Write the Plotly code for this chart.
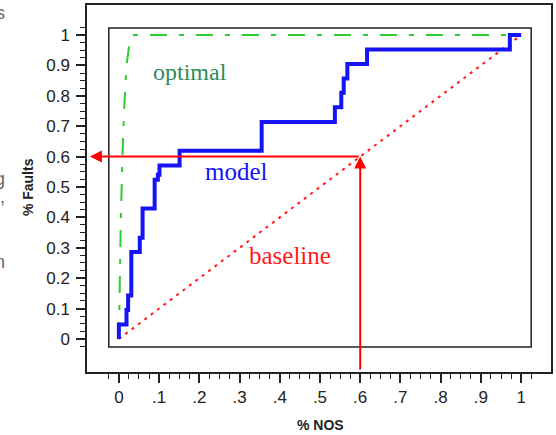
import plotly.graph_objects as go

# ---- data ----
model_x = [0, 0, 0.019, 0.023, 0.031, 0.052, 0.059, 0.089, 0.097, 0.101, 0.151,
           0.355, 0.537, 0.553, 0.559, 0.568, 0.617, 0.972, 1.0]
model_y = [0, 0.048, 0.095, 0.143, 0.286, 0.333, 0.429, 0.524, 0.54, 0.571, 0.619,
           0.714, 0.762, 0.810, 0.857, 0.905, 0.952, 1.0, 1.0]

optimal_x = [0, 0.002, 0.005, 0.009, 0.013, 0.019, 0.026, 0.035, 1.0]
optimal_y = [0, 0.2, 0.4, 0.6, 0.75, 0.9, 0.97, 1.0, 1.0]

baseline_x = [0, 1]
baseline_y = [0, 1]

cut_x = 0.6
cut_y = 0.6

x_major = [0, 0.1, 0.2, 0.3, 0.4, 0.5, 0.6, 0.7, 0.8, 0.9, 1.0]
x_labels = ["0", ".1", ".2", ".3", ".4", ".5", ".6", ".7", ".8", ".9", "1"]
y_major = [0, 0.1, 0.2, 0.3, 0.4, 0.5, 0.6, 0.7, 0.8, 0.9, 1.0]
y_labels = ["0", "0.1", "0.2", "0.3", "0.4", "0.5", "0.6", "0.7", "0.8", "0.9", "1"]
minor_vals = [round(-0.025 + 0.025 * i, 3) for i in range(43)]
minor_vals = [v for v in minor_vals if round(v * 10, 6) != round(v * 10)]

fig = go.Figure()

fig.add_trace(go.Scatter(x=baseline_x, y=baseline_y, mode="lines",
                         line=dict(color="#ff1a1a", width=2, dash="3px,5px"),
                         hoverinfo="skip"))
fig.add_trace(go.Scatter(x=optimal_x, y=optimal_y, mode="lines",
                         line=dict(color="#2ecc2e", width=2, dash="17px,12px,5px,12px"),
                         hoverinfo="skip"))
fig.add_trace(go.Scatter(x=model_x, y=model_y, mode="lines", line_shape="hv",
                         line=dict(color="#1414f5", width=4),
                         hoverinfo="skip"))

# inner frame
fig.add_shape(type="rect", xref="x", yref="y", x0=-0.025, x1=1.025, y0=-0.026, y1=1.023,
              line=dict(color="#222222", width=1.5), layer="below")

# red arrows
fig.add_annotation(x=-0.072, y=cut_y, ax=cut_x, ay=cut_y, xref="x", yref="y",
                   axref="x", ayref="y", text="", showarrow=True, arrowhead=2,
                   arrowsize=1.2, arrowwidth=2, arrowcolor="#ff0000", standoff=0)
fig.add_annotation(x=cut_x, y=cut_y, ax=cut_x, ay=-0.105, xref="x", yref="y",
                   axref="x", ayref="y", text="", showarrow=True, arrowhead=2,
                   arrowsize=1.2, arrowwidth=2, arrowcolor="#ff0000", standoff=0)

serif = "Liberation Serif, Times New Roman, serif"
fig.add_annotation(x=0.176, y=0.878, xref="x", yref="y", text="optimal", showarrow=False,
                   font=dict(family=serif, size=24, color="#2e8b57"))
fig.add_annotation(x=0.292, y=0.552, xref="x", yref="y", text="model", showarrow=False,
                   font=dict(family=serif, size=25, color="#1414f5"))
fig.add_annotation(x=0.426, y=0.276, xref="x", yref="y", text="baseline", showarrow=False,
                   font=dict(family=serif, size=25, color="#ff1a1a"))

sans = "Liberation Sans, Arial, sans-serif"
fig.add_annotation(x=-0.127, y=0.504, xref="paper", yref="paper", text="<b>% Faults</b>",
                   textangle=-90, xanchor="center", yanchor="middle", showarrow=False,
                   font=dict(family=sans, size=14, color="#222222"))
fig.add_annotation(x=0.504, y=-0.145, xref="paper", yref="paper", text="<b>% NOS</b>",
                   xanchor="center", yanchor="middle", showarrow=False,
                   font=dict(family=sans, size=14, color="#222222"))

# stray fragments of surrounding text at the left edge
for txt, py in [("s", 0.978), ("g", 0.525), (",", 0.478), ("n", 0.30)]:
    fig.add_annotation(x=-0.172, y=py, xref="paper", yref="paper", text=txt,
                       xanchor="right", yanchor="middle", showarrow=False,
                       font=dict(family=sans, size=18, color="#666666"))

axis_common = dict(showline=True, mirror=True, linecolor="#222222", linewidth=1.5,
                   showgrid=False, zeroline=False, ticks="outside", ticklen=9,
                   tickwidth=1.5, tickcolor="#222222",
                   tickfont=dict(family=sans, size=17, color="#222222"))

fig.update_xaxes(range=[-0.0792, 1.0743], tickmode="array", tickvals=x_major,
                 ticktext=x_labels, ticklabelstandoff=0,
                 minor=dict(tickmode="array", tickvals=minor_vals, ticks="outside",
                            ticklen=5, tickwidth=1.2, tickcolor="#222222"),
                 **axis_common)
fig.update_yaxes(range=[-0.1086, 1.0987], tickmode="array", tickvals=y_major,
                 ticktext=y_labels, ticklabelstandoff=3,
                 minor=dict(tickmode="array", tickvals=minor_vals, ticks="outside",
                            ticklen=5, tickwidth=1.2, tickcolor="#222222"),
                 **axis_common)

fig.update_layout(width=556, height=435, margin=dict(l=87, r=3, t=5, b=63),
                  paper_bgcolor="white", plot_bgcolor="white", showlegend=False)

fig.write_html("out.html")
